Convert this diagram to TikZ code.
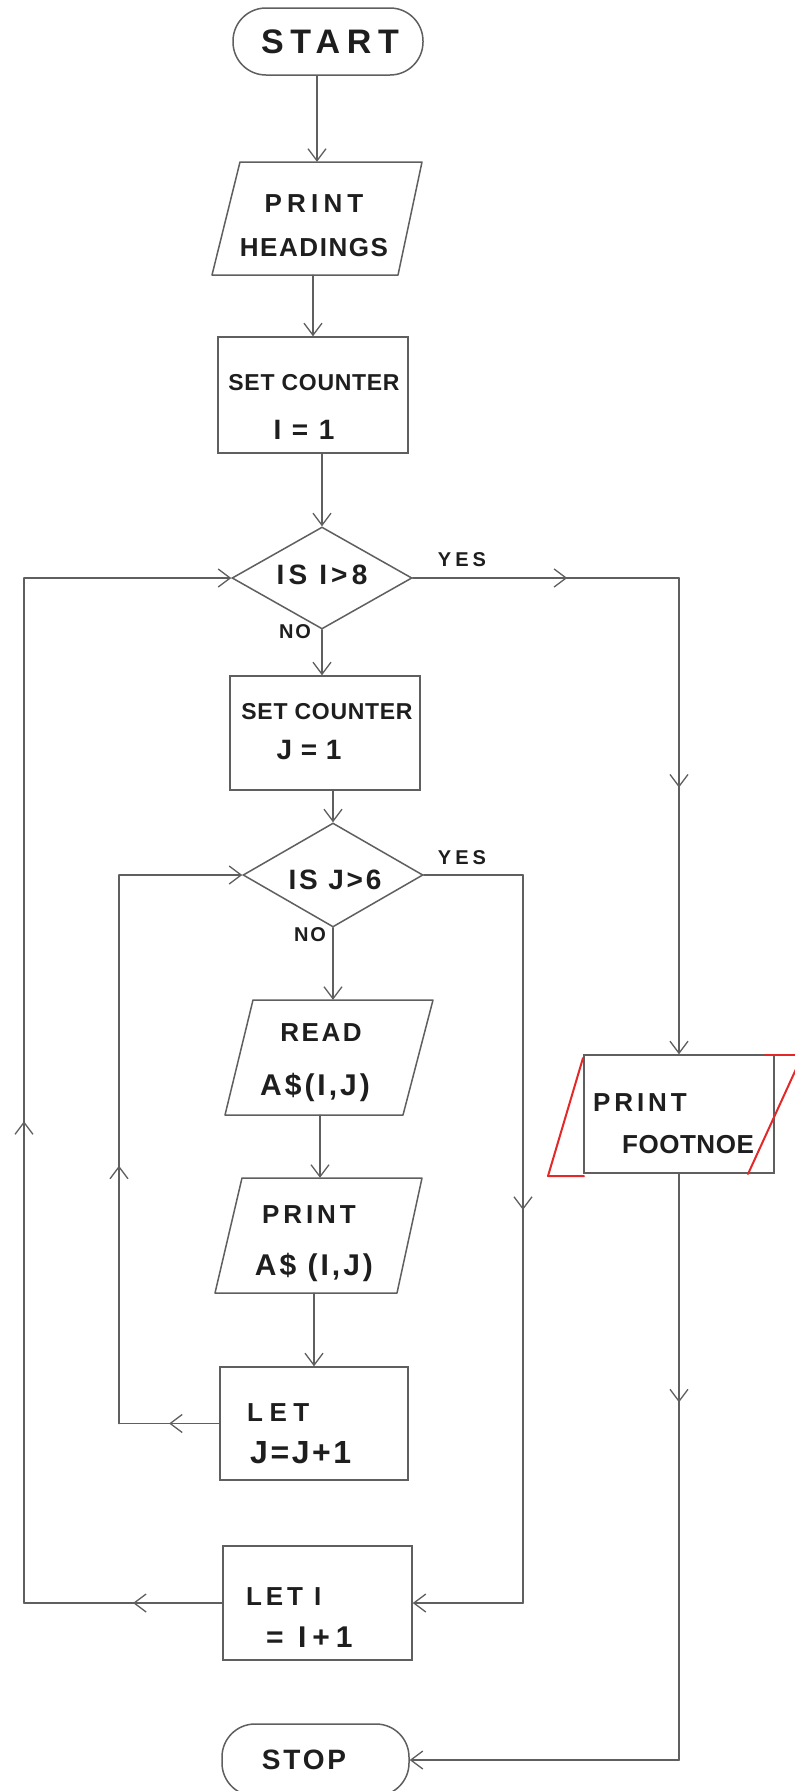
\documentclass[tikz,border=0pt]{standalone}
\usepackage{fontspec}
\setmainfont{Liberation Sans}
\usetikzlibrary{arrows.meta,decorations.markings,calc,shapes.geometric}
\definecolor{linegray}{RGB}{95,95,95}
\definecolor{textblk}{RGB}{30,30,30}
\definecolor{redpen}{RGB}{228,40,40}
\newcommand{\handfont}[2]{\fontsize{#1}{#1}\selectfont\bfseries\addfontfeatures{LetterSpace=#2}}
\begin{document}
\begin{tikzpicture}[x=1pt,y=-1pt,
  ln/.style={draw=linegray, line width=1.5pt, line cap=round, line join=round},
  arr/.style={-{Straight Barb[length=12pt,width=18pt,line width=1.3pt]}},
  midarr/.style={postaction={decorate},decoration={markings,mark=at position #1 with {\arrow[linegray]{Straight Barb[length=12pt,width=18pt,line width=1.3pt]}}}},
  boxn/.style={draw=linegray, line width=1.5pt, rectangle, inner sep=0pt},
  inv/.style={rectangle, inner sep=0pt},
  term/.style={draw=linegray, line width=1.5pt, rectangle, rounded corners=33pt, inner sep=0pt},
  dia/.style={draw=linegray, line width=1.5pt, diamond, inner sep=0pt},
  hand/.style={text=textblk, inner sep=0pt},
  redln/.style={draw=redpen, line width=2pt, line cap=round, line join=round}
]
\useasboundingbox[fill=white] (0,0) rectangle (795,1791);

% ---------- shapes ----------
\node[term, minimum width=190pt, minimum height=67pt] (start) at (328,41.5) {};
\node[inv, minimum width=186pt, minimum height=113pt] (ph) at (317,218.5) {};
\draw[ln] (240,162) -- (422,162) -- (398,275) -- (212,275) -- cycle;
\node[boxn, minimum width=190pt, minimum height=116pt] (sc1) at (313,395) {};
\node[dia, minimum width=180pt, minimum height=102pt] (d1) at (322,578) {};
\node[boxn, minimum width=190pt, minimum height=114pt] (scj) at (325,733) {};
\node[dia, minimum width=180pt, minimum height=104pt] (d2) at (333,875) {};
\node[inv, minimum width=180pt, minimum height=115pt] (read) at (333,1057.5) {};
\draw[ln] (253,1000) -- (433,1000) -- (403,1115) -- (225,1115) -- cycle;
\node[inv, minimum width=182pt, minimum height=115pt] (pa) at (320,1235.5) {};
\draw[ln] (242,1178) -- (422,1178) -- (397,1293) -- (215,1293) -- cycle;
\node[boxn, minimum width=188pt, minimum height=113pt] (letj) at (314,1423.5) {};
\node[boxn, minimum width=189pt, minimum height=114pt] (leti) at (317.5,1603) {};
\node[boxn, minimum width=190pt, minimum height=118pt] (fn) at (679,1114) {};
\node[term, minimum width=187pt, minimum height=72pt] (stop) at (315.5,1760) {};

% red correction on PRINT FOOTNOTE
\draw[redln] (583,1058) -- (548,1176) -- (584,1176);
\draw[redln] (748,1174) -- (802,1056);
\draw[redln] (765,1055) -- (802,1055);

% ---------- texts ----------
\node[hand, font=\handfont{34}{20}] (tstart) at (330,42) {START};
\node[hand, font=\handfont{26}{20}] (tph1) at (314,204) {PRINT};
\node[hand, font=\handfont{26}{6}] (tph2) at (314,248) {HEADINGS};
\node[hand, font=\handfont{23}{3}] (tsc1a) at (314,383) {SET COUNTER};
\node[hand, font=\handfont{28}{10}] (tsc1b) at (304,430) {I = 1};
\node[hand, font=\handfont{28}{15}] (td1) at (322,575) {IS I>8};
\node[hand, font=\handfont{20}{20}] (tyes1) at (462,560) {YES};
\node[hand, font=\handfont{20}{10}] (tno1) at (295,632) {NO};
\node[hand, font=\handfont{23}{3}] (tscja) at (327,712) {SET COUNTER};
\node[hand, font=\handfont{28}{3}] (tscjb) at (309,750) {J = 1};
\node[hand, font=\handfont{28}{10}] (td2) at (335,880) {IS J>6};
\node[hand, font=\handfont{20}{20}] (tyes2) at (462,858) {YES};
\node[hand, font=\handfont{20}{10}] (tno2) at (310,935) {NO};
\node[hand, font=\handfont{26}{10}] (tread1) at (321,1033) {READ};
\node[hand, font=\handfont{30}{10}] (tread2) at (315,1087) {A\$(I,J)};
\node[hand, font=\handfont{26}{15}] (tpa1) at (309,1215) {PRINT};
\node[hand, font=\handfont{30}{10}] (tpa2) at (314,1267) {A\$ (I,J)};
\node[hand, font=\handfont{26}{25}, anchor=west] (tlj1) at (247,1413) {LET};
\node[hand, font=\handfont{32}{8}, anchor=west] (tlj2) at (250,1453) {J=J+1};
\node[hand, font=\handfont{26}{15}, anchor=west] (tli1) at (246,1597) {LET I};
\node[hand, font=\handfont{30}{20}, anchor=west] (tli2) at (266,1637) {= I+1};
\node[hand, font=\handfont{26}{15}, anchor=west] (tfn1) at (593,1103) {PRINT};
\node[hand, font=\handfont{26}{2}, anchor=west] (tfn2) at (622,1145) {FOOTNOE};
\node[hand, font=\handfont{28}{10}] (tstop) at (304,1760) {STOP};

% ---------- connectors ----------
\draw[ln,arr] (ph.north |- start.south) -- (ph.north);
\draw[ln,arr] (sc1.north |- ph.south) -- (sc1.north);
\draw[ln,arr] (d1.north |- sc1.south) -- (d1.north);
\draw[ln,arr] (d1.south) -- (d1.south |- scj.north);
\draw[ln,arr] (d2.north |- scj.south) -- (d2.north);
\draw[ln,arr] (d2.south) -- (d2.south |- read.north);
\draw[ln,arr] (pa.north |- read.south) -- (pa.north);
\draw[ln,arr] (letj.north |- pa.south) -- (letj.north);

% YES of outer decision -> PRINT FOOTNOTE
\coordinate (y1a) at (fn.north |- d1.east);
\draw[ln,midarr=0.58] (d1.east) -- (y1a);
\draw[ln,arr,midarr=0.44] (y1a) -- (fn.north);

% PRINT FOOTNOTE -> STOP
\coordinate (fs) at (fn.south |- stop.east);
\draw[ln,midarr=0.39] (fn.south) -- (fs);
\draw[ln,arr] (fs) -- (stop.east);

% YES of inner decision -> LET I
\coordinate (y2a) at (523,875);
\coordinate (y2b) at (y2a |- leti.east);
\draw[ln] (d2.east) -- (y2a);
\draw[ln,midarr=0.46] (y2a) -- (y2b);
\draw[ln,arr] (y2b) -- (leti.east);

% inner loop LET J -> inner decision
\coordinate (lj1) at (119,1423.5);
\coordinate (lj2) at (lj1 |- d2.west);
\draw[ln,midarr=0.5] (letj.west) -- (lj1);
\draw[ln,midarr=0.47] (lj1) -- (lj2);
\draw[ln,arr] (lj2) -- (d2.west);

% outer loop LET I -> outer decision
\coordinate (li1) at (24,1603);
\coordinate (li2) at (li1 |- d1.west);
\draw[ln,midarr=0.45] (leti.west) -- (li1);
\draw[ln,midarr=0.47] (li1) -- (li2);
\draw[ln,arr] (li2) -- (d1.west);
\end{tikzpicture}
\end{document}
